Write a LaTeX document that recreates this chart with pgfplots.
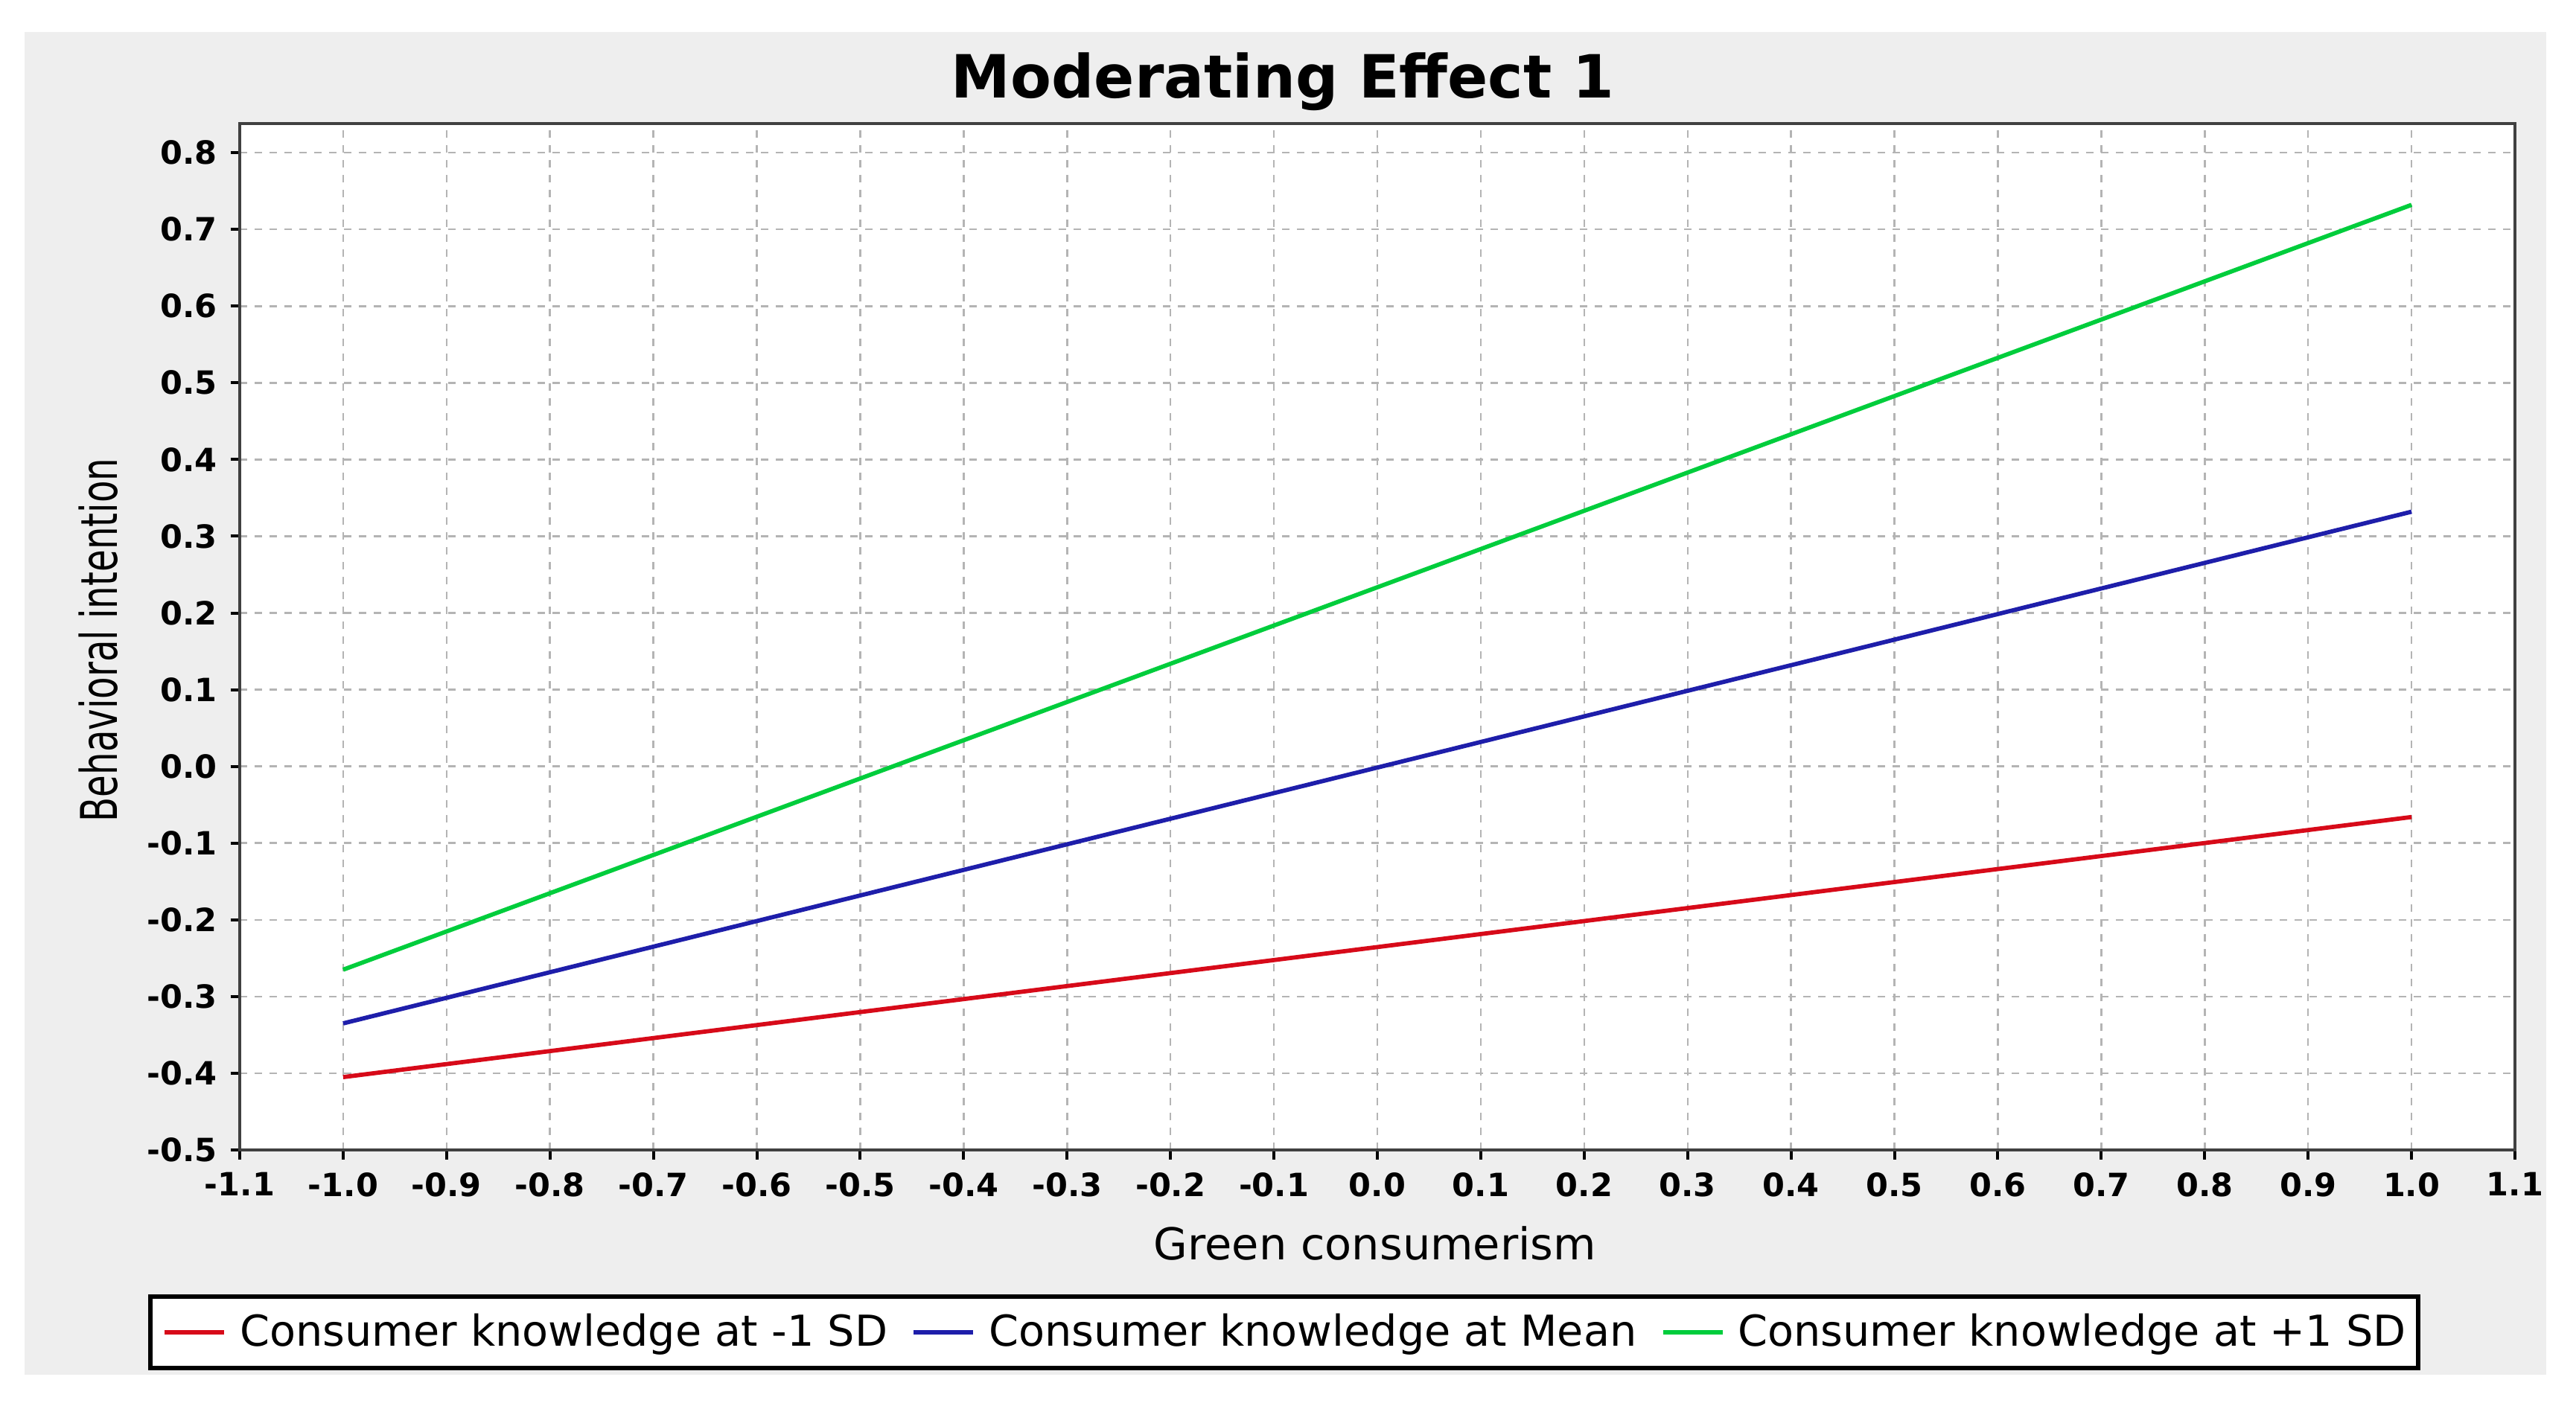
\documentclass[border=0pt]{standalone}
\usepackage{fontspec}
\setmainfont{DejaVu Sans}
\newfontfamily\narrowfont{DejaVu Sans}[FakeStretch=0.71]
\usepackage{pgfplots}
\pgfplotsset{compat=1.18}
\definecolor{panel}{RGB}{238,238,238}
\definecolor{lnred}{RGB}{215,10,25}
\definecolor{lnblue}{RGB}{30,30,170}
\definecolor{lngreen}{RGB}{0,205,60}
\definecolor{gridc}{RGB}{180,180,180}

\begin{document}
\begin{tikzpicture}
% whole image and grey panel
\fill[white] (0pt,0pt) rectangle (692pt,377.6pt);
\fill[panel] (6.6pt,8.2pt) rectangle (684pt,369pt);
\node[anchor=base,font=\bfseries\fontsize{16}{18}\selectfont] at (344.6pt,351.2pt) {Moderating Effect 1};
\node[rotate=90,font=\narrowfont\fontsize{13.6}{15}\selectfont] at (26.4pt,205.6pt) {Behavioral intention};
\node[font=\fontsize{11.8}{13}\selectfont] at (369.4pt,43.6pt) {Green consumerism};
\begin{axis}[
  at={(64.4pt,68.6pt)}, anchor=south west,
  scale only axis, width=611.2pt, height=275.8pt,
  xmin=-1.1, xmax=1.1, ymin=-0.5, ymax=0.838,
  xtick={-1.1,-1.0,...,1.11}, ytick={-0.5,-0.4,...,0.81},
  /pgf/number format/assume math mode=true,
  xticklabel style={font=\bfseries\fontsize{8.6}{10}\selectfont},
  yticklabel style={font=\bfseries\fontsize{8.6}{10}\selectfont},
  xticklabel={\pgfmathprintnumber[fixed,fixed zerofill,precision=1]{\tick}},
  yticklabel={\pgfmathprintnumber[fixed,fixed zerofill,precision=1]{\tick}},
  tick align=outside, major tick length=2.5pt,
  tick style={black, line width=0.8pt},
  xtick pos=bottom, ytick pos=left,
  axis background/.style={fill=white},
  axis line style={draw=black!75, line width=0.8pt},
  grid=major,
  major grid style={gridc, line width=0.5pt, dash pattern=on 2pt off 2pt},
  legend columns=3,
  legend style={at={(0.4591,-0.1777)}, anchor=center, draw=black, line width=1.1pt,
    fill=white, font=\fontsize{11.45}{13}\selectfont, inner xsep=3.2pt, inner ysep=4.5pt,
    nodes={inner xsep=0pt, inner ysep=0pt},
    /tikz/every odd column/.append style={column sep=3.6pt},
    /tikz/every even column/.append style={column sep=6.4pt}},
  legend image code/.code={\draw[#1, line width=1.2pt] (0pt,0pt) -- (16pt,0pt);},
]
\addplot[lnred, line width=1.15pt] coordinates {(-1.0,-0.405) (1.0,-0.066)};
\addlegendentry{Consumer knowledge at -1 SD}
\addplot[lnblue, line width=1.15pt] coordinates {(-1.0,-0.335) (1.0,0.332)};
\addlegendentry{Consumer knowledge at Mean}
\addplot[lngreen, line width=1.15pt] coordinates {(-1.0,-0.265) (1.0,0.732)};
\addlegendentry{Consumer knowledge at +1 SD}
\end{axis}
\end{tikzpicture}
\end{document}
